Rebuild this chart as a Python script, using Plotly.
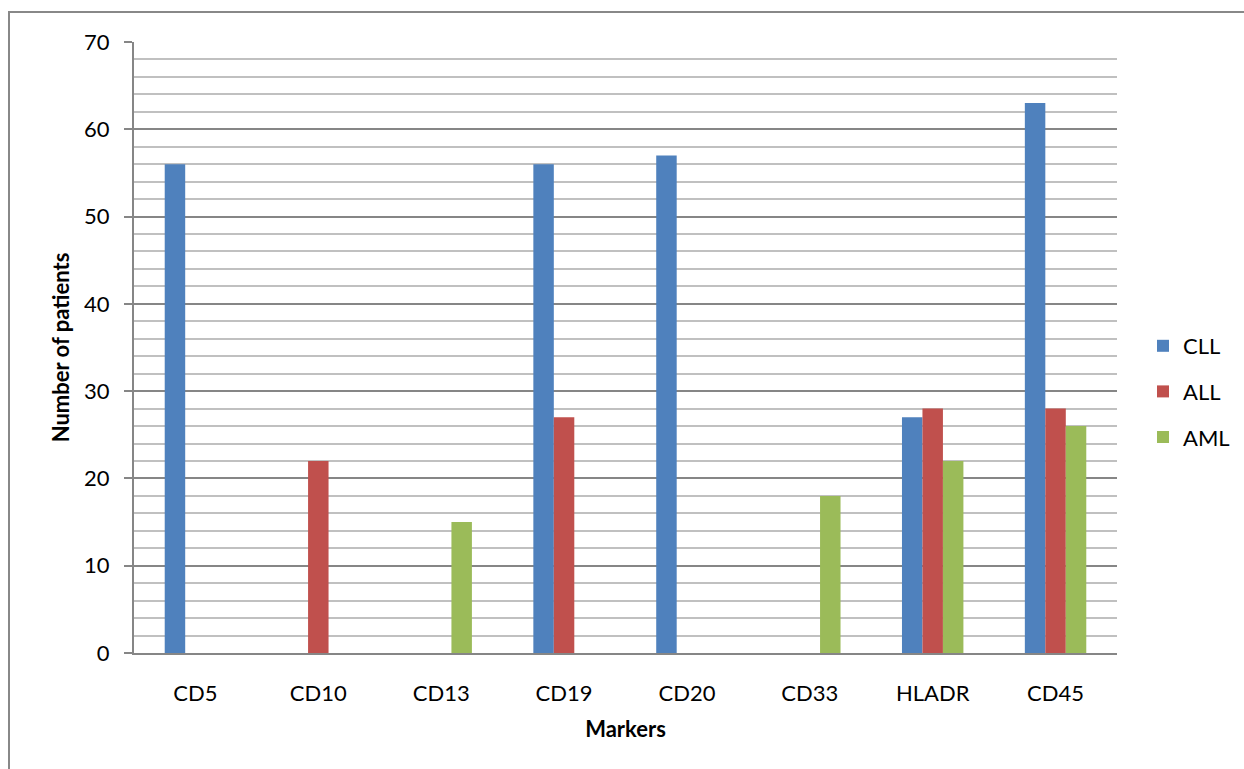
import plotly.graph_objects as go

markers = ["CD5", "CD10", "CD13", "CD19", "CD20", "CD33", "HLADR", "CD45"]
cll = [56, 0, 0, 56, 57, 0, 27, 63]
all_ = [0, 22, 0, 27, 0, 0, 28, 28]
aml = [0, 0, 15, 0, 0, 18, 22, 26]

series = [("CLL", cll, "#4F81BD"), ("ALL", all_, "#C0504D"), ("AML", aml, "#9BBB59")]

FONT = "Lato, Open Sans, sans-serif"
W, H = 1244, 769
L, R, T, B = 134, 127, 42, 116

fig = go.Figure()
for name, vals, color in series:
    fig.add_trace(go.Bar(
        x=markers, y=vals, name=name, legendgroup=name,
        marker=dict(color=color, line=dict(width=0)),
    ))

pw = W - L - R
ph = H - T - B

def px_x(px):
    return (px - L) / pw

def px_y(py):
    return (H - B - py) / ph

fig.update_layout(
    width=W, height=H,
    margin=dict(l=L, r=R, t=T, b=B, autoexpand=False),
    paper_bgcolor="white", plot_bgcolor="white",
    barmode="group", bargap=0.5, bargroupgap=0,
    font=dict(family=FONT, size=22, color="#000000"),
    legend=dict(
        x=px_x(1143), y=px_y(325), xanchor="left", yanchor="top",
        font=dict(size=22), tracegroupgap=14, itemwidth=30,
        bgcolor="rgba(0,0,0,0)",
    ),
    xaxis=dict(
        showline=True, linecolor="#868686", linewidth=2,
        ticks="", ticklabelstandoff=20, showgrid=False,
        title=dict(text="<b>Markers</b>", standoff=16, font=dict(size=22)),
    ),
    yaxis=dict(
        range=[0, 70], dtick=10, tick0=0,
        showline=True, linecolor="#868686", linewidth=2,
        ticks="outside", ticklen=8, tickcolor="#868686", tickwidth=2,
        showgrid=True, gridcolor="#868686", gridwidth=2,
        zeroline=False, ticklabelstandoff=10,
        minor=dict(dtick=2, showgrid=True, gridcolor="#C0C0C0", gridwidth=2, ticks=""),
        title=dict(text="<b>Number of patients</b>", standoff=8, font=dict(size=22)),
    ),
    shapes=[dict(
        type="rect", xref="paper", yref="paper",
        x0=px_x(9), x1=px_x(1260), y0=px_y(790), y1=px_y(12),
        line=dict(color="#888888", width=2), fillcolor="rgba(0,0,0,0)",
        layer="below",
    )],
)

fig.write_html("out.html")
